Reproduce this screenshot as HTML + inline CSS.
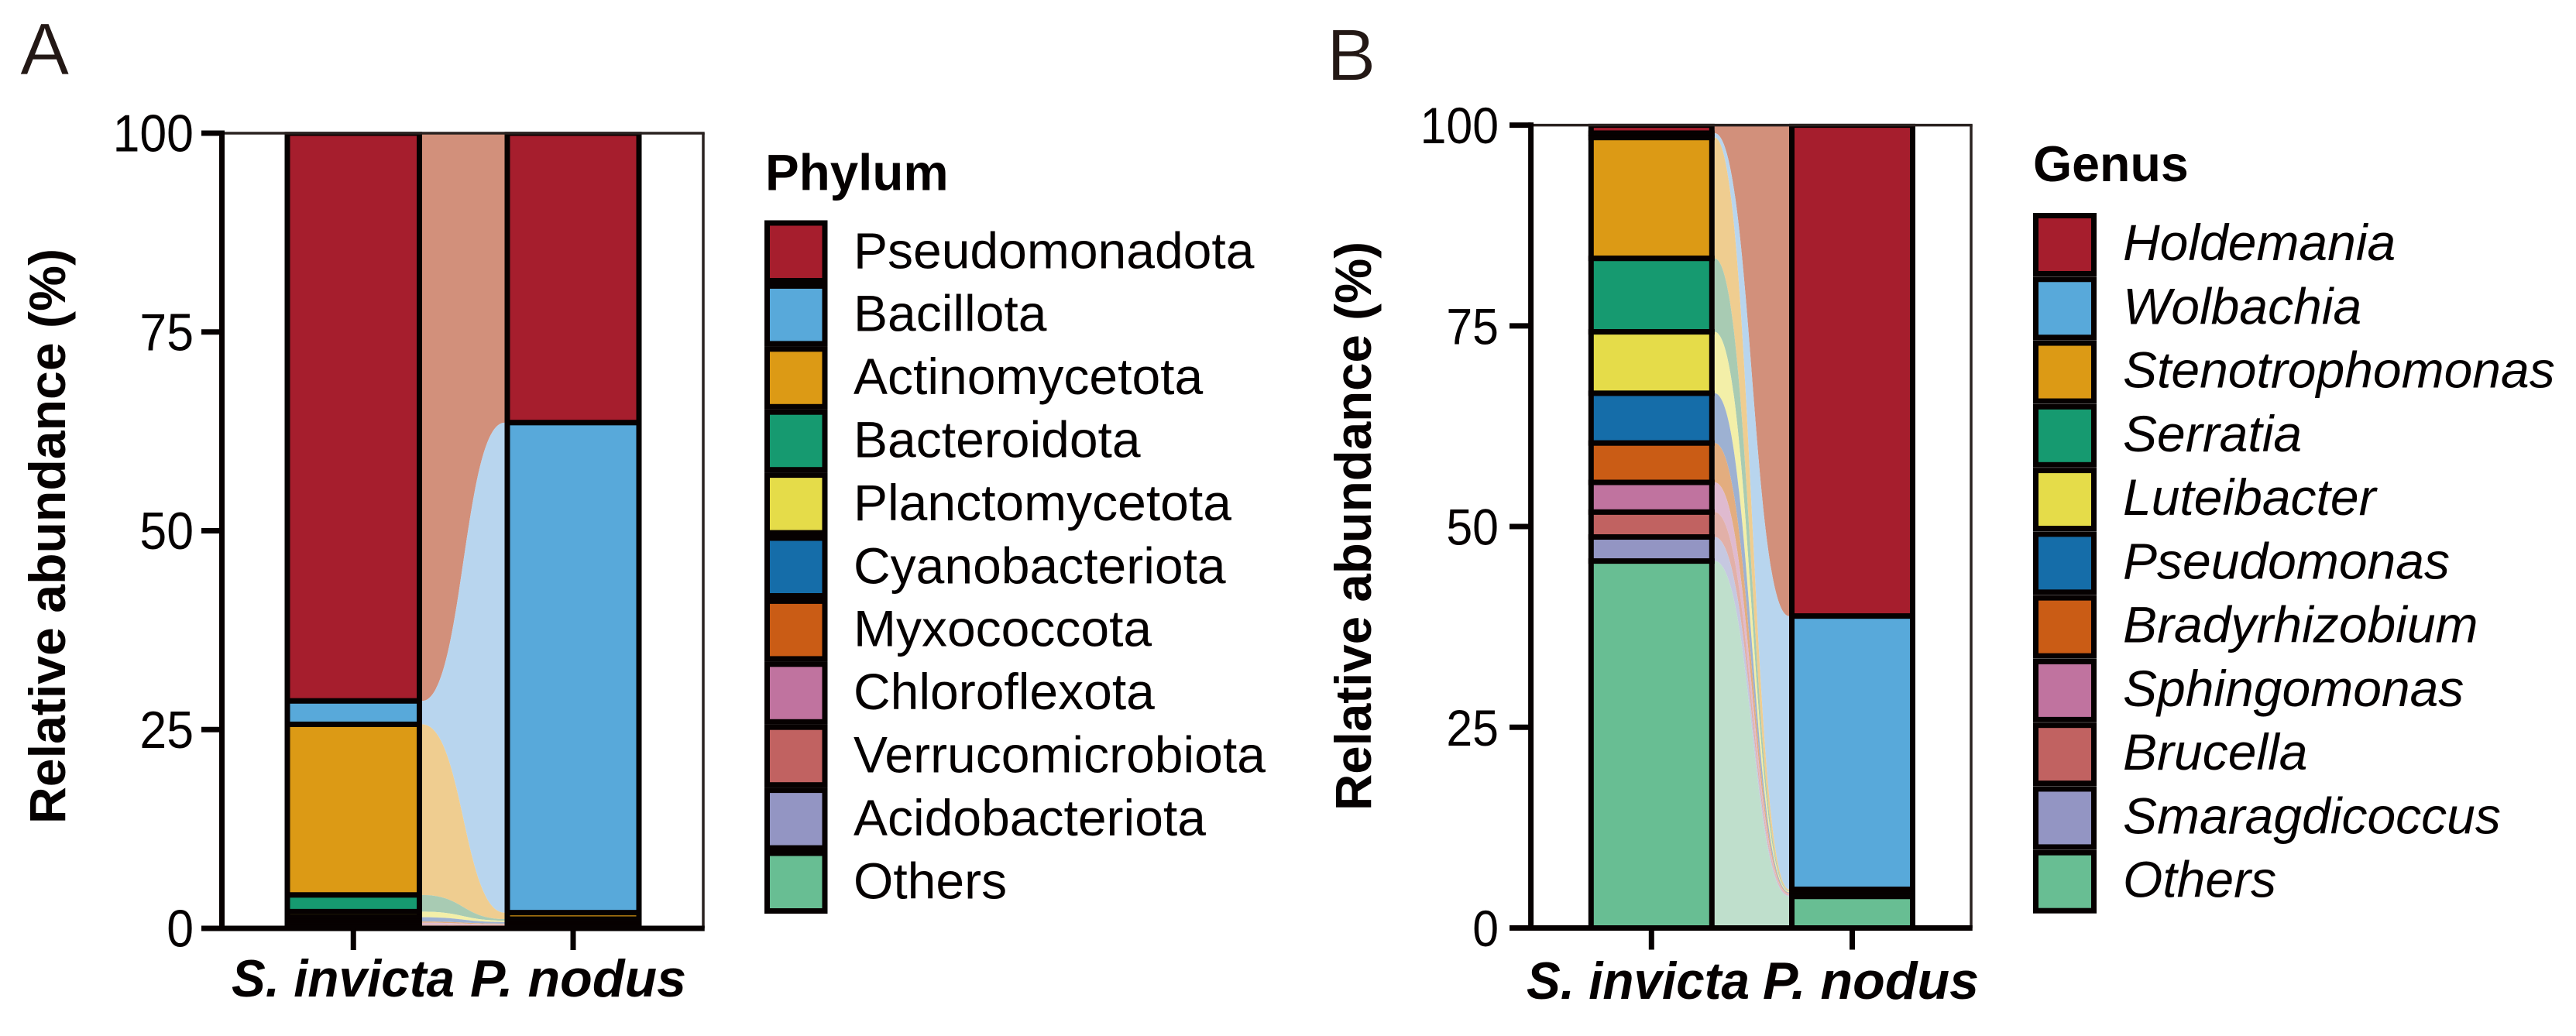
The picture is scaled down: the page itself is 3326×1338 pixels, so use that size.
<!DOCTYPE html>
<html lang="en">
<head>
<meta charset="utf-8">
<title>Relative abundance by phylum and genus</title>
<style>
html,body{margin:0;padding:0;background:#fff;width:3326px;height:1338px;overflow:hidden}
svg{display:block}
text{font-family:"Liberation Sans",Arial,sans-serif;fill:#050101}
</style>
</head>
<body>
<svg id="figure" xmlns="http://www.w3.org/2000/svg" width="3326" height="1338" viewBox="0 0 3326 1338">
  <rect width="3326" height="1338" fill="#ffffff"/>
  <text x="26" y="96" font-size="95" style="fill:#231815" stroke="#ffffff" stroke-width="0.8">A</text>
  <text x="1713" y="103.5" font-size="95" style="fill:#231815" stroke="#ffffff" stroke-width="0.8">B</text>
  <text transform="translate(84 1064) rotate(-90)" font-size="66" font-weight="700" textLength="743" lengthAdjust="spacingAndGlyphs">Relative abundance (%)</text>
  <text transform="translate(1770 1047) rotate(-90)" font-size="66" font-weight="700" textLength="735" lengthAdjust="spacingAndGlyphs">Relative abundance (%)</text>
  <text x="988" y="245.5" font-size="65.5" font-weight="700">Phylum</text>
  <text x="2625" y="234" font-size="64.5" font-weight="700">Genus</text>
  <g id="panel-a"></g>
  <g id="panel-b"></g>
</svg>
<script>
// ---- chart data (percent) ----
const phylumCategories = ['Pseudomonadota','Bacillota','Actinomycetota','Bacteroidota','Planctomycetota','Cyanobacteriota','Myxococcota','Chloroflexota','Verrucomicrobiota','Acidobacteriota','Others'];
const phylumInvicta = [71.4,2.94,21.46,2.1,0.7,0.55,0.15,0.2,0.15,0.15,0.2];
const phylumNodus = [36.4,61.63,0.8,0.2,0.17,0.2,0.1,0.1,0.1,0.1,0.2];

const genusCategories = ['Holdemania','Wolbachia','Stenotrophomonas','Serratia','Luteibacter','Pseudomonas','Bradyrhizobium','Sphingomonas','Brucella','Smaragdicoccus','Others'];
const genusInvicta = [1.0,0.55,15.05,9.15,7.65,6.2,4.9,3.7,3.1,3.0,45.7];
const genusNodus = [61.15,34.05,0.15,0.1,0.1,0.1,0.1,0.1,0.1,0.12,3.93];

const sampleLabels = ['S. invicta','P. nodus'];
const tickValues = [0,25,50,75,100];
const tickLabels = ['0','25','50','75','100'];

const barColors = ['#A61E2D','#58A9DA','#DC9A15','#169A70','#E5DC49','#156DA9','#CA5C15','#C0739F','#C16261','#9395C3','#68BE93'];
const flowColors = ['#D2907B','#B8D5EE','#EFCD90','#A8CBB3','#F3EFA8','#9DB1D2','#E3AD7F','#DFBACF','#E2B0A8','#C6C8E1','#BFDFCC'];
const INK = '#060101';

const NS = 'http://www.w3.org/2000/svg';
function make(parent, tag, attrs, content) {
  const el = document.createElementNS(NS, tag);
  for (const k in attrs) el.setAttribute(k, attrs[k]);
  if (content !== undefined) el.textContent = content;
  parent.appendChild(el);
  return el;
}
function slug(s) { return s.toLowerCase().replace(/[^a-z]+/g, '-').replace(/^-|-$/g, ''); }

function drawPanel(cfg) {
  const root = document.getElementById(cfg.id);
  const y = v => cfg.y0 - v * (cfg.y0 - cfg.y100) / 100;
  const clipId = cfg.id + '-clip';
  const defs = make(root, 'defs', {});
  const clip = make(defs, 'clipPath', { id: clipId });
  make(clip, 'rect', { x: cfg.axisX, y: cfg.y100 - 1.75, width: cfg.rightX - cfg.axisX, height: cfg.y0 - cfg.y100 + 3 });
  const plot = make(root, 'g', { 'clip-path': 'url(#' + clipId + ')' });

  // flows between the two stacks
  const fx0 = cfg.bars[0].x1 + 3.5, fx1 = cfg.bars[1].x0 - 3.5, fm = (fx0 + fx1) / 2;
  let ca = 100, cb = 100;
  cfg.categories.forEach((name, i) => {
    const a0 = y(ca), b0 = y(cb);
    ca -= cfg.left[i]; cb -= cfg.right[i];
    const a1 = y(ca), b1 = y(cb);
    const d = 'M' + fx0 + ' ' + a0 + 'C' + fm + ' ' + a0 + ' ' + fm + ' ' + b0 + ' ' + fx1 + ' ' + b0 +
              'L' + fx1 + ' ' + b1 + 'C' + fm + ' ' + b1 + ' ' + fm + ' ' + a1 + ' ' + fx0 + ' ' + a1 + 'Z';
    const flow = make(plot, 'path', { d: d, fill: flowColors[i] });
    
    
  });

  // stacked bars
  [cfg.left, cfg.right].forEach((vals, b) => {
    const bar = cfg.bars[b];
    let c = 100;
    vals.forEach((v, i) => {
      const top = y(c); c -= v;
      const seg = make(plot, 'rect', { x: bar.x0, y: top, width: bar.x1 - bar.x0, height: y(c) - top, fill: barColors[i], stroke: INK, 'stroke-width': 7 });
      
      
    });
  });

  // frame: thin top and right lines
  const topLine = make(root, 'line', { x1: cfg.axisX, x2: cfg.rightX + 1.75, y1: cfg.y100, y2: cfg.y100, stroke: '#2a2220', 'stroke-width': 3.5 });
  
  
  const rightLine = make(root, 'line', { x1: cfg.rightX, x2: cfg.rightX, y1: cfg.y100, y2: cfg.y0, stroke: '#2a2220', 'stroke-width': 3.5 });
  
  

  // y axis
  const yAxis = make(root, 'line', { x1: cfg.axisX, x2: cfg.axisX, y1: cfg.y100 - 3.5, y2: cfg.y0 + 3.5, stroke: INK, 'stroke-width': 7 });
  
  
  tickValues.forEach((v, i) => {
    const t = make(root, 'line', { x1: cfg.tickX, x2: cfg.axisX, y1: y(v), y2: y(v), stroke: INK, 'stroke-width': 7 });
    
    
    const l = make(root, 'text', { x: cfg.labelX, y: y(v) + 23.5, 'font-size': cfg.tickFont, 'text-anchor': 'end', textLength: (tickLabels[i].length * cfg.digitWidth), lengthAdjust: 'spacingAndGlyphs' }, tickLabels[i]);
    
    
  });

  // x axis
  const xAxis = make(root, 'line', { x1: cfg.tickX, x2: cfg.rightX + 1.75, y1: cfg.y0, y2: cfg.y0, stroke: INK, 'stroke-width': 7 });
  
  
  sampleLabels.forEach((s, b) => {
    const cx = (cfg.bars[b].x0 + cfg.bars[b].x1) / 2;
    const t = make(root, 'line', { x1: cx, x2: cx, y1: cfg.y0, y2: cfg.y0 + 28, stroke: INK, 'stroke-width': 7 });
    
    
    const lab = cfg.xLabels[b];
    const l = make(root, 'text', { x: lab.x, y: cfg.xBase, 'font-size': 68, 'font-weight': 700, 'font-style': 'italic', textLength: lab.len, lengthAdjust: 'spacingAndGlyphs' }, s);
    
    
  });

  // legend
  cfg.categories.forEach((name, i) => {
    const ty = cfg.legend.top + i * cfg.legend.step;
    const sw = make(root, 'rect', { x: cfg.legend.x, y: ty, width: cfg.legend.size, height: cfg.legend.size, fill: barColors[i], stroke: INK, 'stroke-width': 7 });
    
    
    const attrs = { x: cfg.legend.textX, y: ty + cfg.legend.size / 2 + cfg.legend.textDy, 'font-size': 66 };
    if (cfg.legend.italic) attrs['font-style'] = 'italic';
    const l = make(root, 'text', attrs, name);
    
    
  });
}

drawPanel({
  id: 'panel-a', categories: phylumCategories, left: phylumInvicta, right: phylumNodus,
  y0: 1199, y100: 172, axisX: 286.5, rightX: 908, tickX: 260, labelX: 250, tickFont: 68, digitWidth: 34.8,
  bars: [{ x0: 371, x1: 541.5 }, { x0: 655, x1: 825 }],
  xBase: 1287, xLabels: [{ x: 299, len: 288 }, { x: 607, len: 279 }],
  legend: { x: 990.5, top: 288, size: 74.5, step: 81.4, textX: 1102, textDy: 21, italic: false }
});
drawPanel({
  id: 'panel-b', categories: genusCategories, left: genusInvicta, right: genusNodus,
  y0: 1198.5, y100: 161.6, axisX: 1976.6, rightX: 2545, tickX: 1949, labelX: 1935, tickFont: 66, digitWidth: 33.8,
  bars: [{ x0: 2054.3, x1: 2210.3 }, { x0: 2313.5, x1: 2469.5 }],
  xBase: 1290, xLabels: [{ x: 1971, len: 288 }, { x: 2276, len: 279 }],
  legend: { x: 2628.5, top: 278.5, size: 75, step: 82.27, textX: 2741, textDy: 20, italic: true }
});
</script>
</body>
</html>
